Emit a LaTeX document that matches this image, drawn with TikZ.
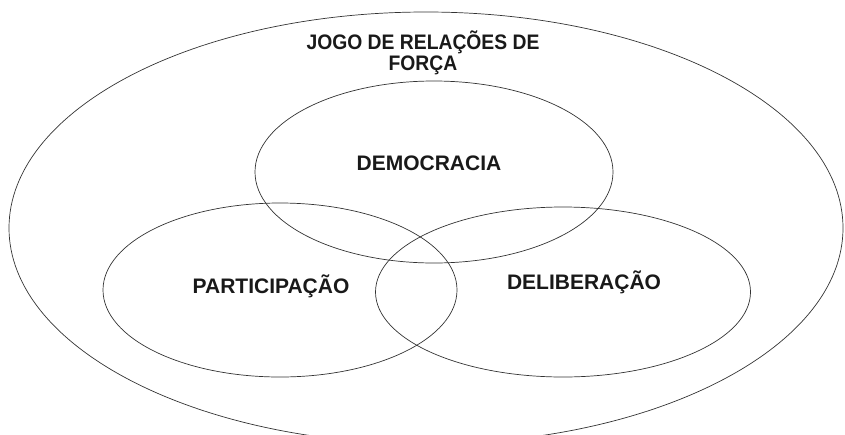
\documentclass[tikz,border=0pt]{standalone}
\usepackage{fontspec}
\setmainfont{Liberation Sans}
\newfontfamily\narrowfont[FakeStretch=0.92]{Liberation Sans}
\begin{document}
\begin{tikzpicture}[x=1pt,y=-1pt,
  ring/.style={draw=black!80, line width=0.7pt},
  lbl/.style={font=\fontsize{21}{24}\selectfont\bfseries, text=black!90, inner sep=0pt, anchor=base}]
\useasboundingbox (0,0) rectangle (845,434);
\begin{scope}
\clip (0,0) rectangle (845,434);
\draw[ring] (426,228) ellipse [x radius=417, y radius=216];
\end{scope}
\draw[ring] (434,172) ellipse [x radius=179, y radius=91];
\draw[ring] (280,290) ellipse [x radius=177, y radius=87];
\draw[ring] (563,292) ellipse [x radius=187.5, y radius=85];
\node[lbl, align=center, font=\fontsize{21}{21.5}\selectfont\narrowfont\bfseries] (title) at (423,70.7) {JOGO DE RELAÇÕES DE\\FORÇA};
\node[lbl] (dem) at (429,170) {DEMOCRACIA};
\node[lbl] (par) at (271,293.3) {PARTICIPAÇÃO};
\node[lbl] (del) at (584,289.3) {DELIBERAÇÃO};
\end{tikzpicture}
\end{document}
